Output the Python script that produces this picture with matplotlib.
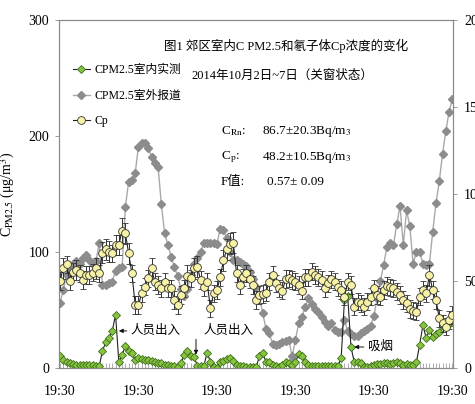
import matplotlib
matplotlib.use('Agg')
import matplotlib.pyplot as plt
from matplotlib.lines import Line2D
from matplotlib.ticker import MultipleLocator, FixedLocator
from matplotlib.font_manager import FontProperties

plt.rcParams['font.family'] = ['Liberation Serif', 'Noto Sans CJK SC']
plt.rcParams['mathtext.fontset'] = 'stix'

# ---------------- data (hourly, 2014-10-02 19:30 .. 10-07 19:30) ----------------
tick_positions = [0, 24, 48, 72, 96, 120]
tick_labels = ['19:30', '19:30', '19:30', '19:30', '19:30', '19:30']

indoor = [10, 7, 5, 4, 3.5, 3, 3, 2.5, 2.5, 3, 3, 2, 1.5,
          15, 22, 26, 32, 46,
          5, 11, 19, 15, 12.6, 7, 9,
          8, 7, 6.5, 6, 5, 4.5, 4, 3, 2.5, 2, 1.5, 1,
          4.6, 11, 14.6, 10,
          9.8, 2, 2, 2,
          13, 5.5, 1, 0,
          5, 6, 7.5, 9,
          6, 3, 2, 1.5, 1, 1, 1, 1,
          10, 12.6, 5.5, 5, 3, 2,
          1, 3, 5, 4, 2.5, 5,
          11.8, 10, 5, 3, 2,
          2, 2, 2, 1.5, 1.5, 1.5, 1.5, 1.5,
          8.6, 58.6, 62, 18,
          5, 5, 4, 1, 0.5, 2, 3,
          3.5, 3.5, 4, 4, 3.5, 4, 5, 4, 3, 3.5, 3, 3,
          5, 20, 37, 25.6, 33, 27, 29.5, 31, 36, 36.5, 38, 40]

outdoor = [56, 67, 80, 87, 90, 92, 90, 94.5, 97, 93, 90, 92, 107.5,
           71.5, 71.5, 73, 74.4, 84, 86, 87, 139,
           160.6, 162, 168, 190.8, 194, 193.6, 190, 182, 177, 173.6,
           141, 116, 106, 96, 87, 79, 68, 62, 68, 80,
           90, 94.5, 100, 107.5, 107.5, 107.5, 107.5, 107, 120, 119,
           112, 100, 93, 93, 91.6, 90, 88, 83, 77, 70,
           61.5, 47, 34, 30, 21, 20, 21, 22, 23, 24,
           10, 24, 38.5, 44, 53, 60, 55, 51, 48, 44,
           40, 36, 38.5, 33, 31, 31, 41, 32, 29, 28,
           28, 30, 32, 34, 36, 45, 60, 75, 89, 104.6,
           107.5, 106, 124, 139.6, 106, 136, 122, 90, 100, 100,
           90, 89, 90, 117.5, 142, 161, 184.5, 204, 221, 232]

cp = [50, 57.3, 59.6, 50, 55.4, 56.3, 54.4, 50.6, 53.4, 53.4, 54.8, 57.3, 54.4,
      66.3, 68.2, 66.9, 65.9, 70.7, 70.7, 79, 77.4, 65.9, 54.4,
      36.2, 36.2, 42.9, 46.7, 51.5, 57.3, 49.6, 47.7, 45.8, 49.6,
      45.8, 45.8, 39, 36.2, 42, 45.8, 53, 51.5, 57.3, 58.2,
      50.6, 46.4, 49.6, 34.3, 42.9, 44.8, 52.1, 62, 68.2, 71.3,
      72, 54.4, 47.7, 52.1, 54.4, 51.1, 47.7, 39, 42, 42.5,
      43.3, 49.6, 53.4, 48.7, 45.8, 44.4, 51.1, 51.5, 50.6, 49.6,
      47.7, 44.4, 52.1, 52.1, 55.4, 53.4, 52.1, 50.6, 45.8, 48.7,
      51, 49.6, 46.4, 44.8, 41, 49.6, 47.7, 35.2, 38.1, 37.2,
      35.2, 38.1, 41, 45.8, 42, 41, 44.8, 47.1, 46.4, 45.8,
      43.9, 42, 39, 37.2, 34, 33, 32.4, 41, 44.8, 42.9,
      53.4, 44.8, 39, 28.6, 25.7, 23.7, 27.6, 30.5]

cp_err = [5, 6, 5, 5, 5, 6, 5, 5, 5, 5, 5, 6, 5,
          6, 6, 6, 5, 6, 6, 7, 6, 6, 5,
          5, 5, 5, 5, 5, 6, 5, 5, 5, 5,
          5, 5, 5, 5, 5, 5, 6, 5, 6, 6,
          5, 5, 5, 5, 5, 5, 5, 6, 6, 6,
          6, 5, 5, 5, 5, 5, 5, 5, 5, 5,
          5, 5, 5, 5, 5, 5, 5, 5, 5, 5,
          5, 5, 5, 5, 5, 5, 5, 5, 5, 5,
          5, 5, 5, 5, 5, 5, 5, 5, 5, 5,
          5, 5, 5, 5, 5, 5, 5, 5, 5, 5,
          5, 5, 5, 5, 5, 5, 5, 5, 5, 5,
          6, 5, 5, 5, 5, 5, 5, 5]

series_labels = ['CPM2.5室内实测', 'CPM2.5室外报道', 'Cp']

assert len(indoor) == len(outdoor) == len(cp) == len(cp_err) == 121, (len(indoor), len(outdoor), len(cp), len(cp_err))

x = list(range(len(indoor)))

# ---------------- figure ----------------
fig = plt.figure(figsize=(4.75, 4.04), dpi=100)
ax = fig.add_axes([59 / 475, 36 / 404, 394 / 475, 348 / 404])
ax2 = ax.twinx()

green_face, green_edge = '#86c440', '#3f6e1c'
gray_c = '#8c8c8c'
yellow_face = '#f7f2a6'
frame_c = '#8a8a8a'

ax.plot(x, outdoor, color='#a9a9a9', lw=1.0, marker='D', ms=4.3,
        mfc=gray_c, mec=gray_c, zorder=2)
ax.plot(x, indoor, color='#222222', lw=0.8, marker='D', ms=4.5,
        mfc=green_face, mec=green_edge, mew=0.6, zorder=3)
ax2.errorbar(x, cp, yerr=cp_err, color='#222222', lw=0.8, marker='o', ms=5.6,
             mfc=yellow_face, mec='#333333', mew=0.6, ecolor='#333333',
             elinewidth=0.7, capsize=2, capthick=0.7)

ax.set_xlim(-0.3, 120.2)
ax.set_ylim(0, 300)
ax2.set_ylim(0, 200)

ax.xaxis.set_major_locator(FixedLocator(tick_positions))
ax.set_xticklabels(tick_labels)
ax.xaxis.set_minor_locator(MultipleLocator(1))
ax.set_yticks([0, 100, 200, 300])
ax2.set_yticks([0, 50, 100, 150, 200])

ax.tick_params(axis='x', which='both', direction='in', length=3.5, width=0.6,
               color='#a0a0a0', labelsize=10, pad=12)
ax.tick_params(axis='y', direction='out', length=3, width=0.6, color=frame_c,
               labelsize=10, pad=4)
ax2.tick_params(axis='y', direction='out', length=3, width=0.6, color=frame_c,
                labelsize=10, pad=5)

for a in (ax, ax2):
    for s in a.spines.values():
        s.set_color(frame_c)
        s.set_linewidth(0.8)

ax.set_ylabel(r'C$_{\mathrm{PM2.5}}$ (μg/m$^3$)', fontsize=10)
ax.yaxis.set_label_coords(-0.107, 0.5)

# ---------------- legend ----------------
handles = [
    Line2D([], [], color='#222222', lw=0.8, marker='D', ms=4.5, mfc=green_face, mec=green_edge, mew=0.6),
    Line2D([], [], color='#a9a9a9', lw=1.0, marker='D', ms=4.3, mfc=gray_c, mec=gray_c),
    Line2D([], [], color='#222222', lw=0.8, marker='o', ms=5.6, mfc=yellow_face, mec='#333333', mew=0.6),
]
leg = ax2.legend(handles, series_labels, loc='upper left', bbox_to_anchor=(0.036, 0.873),
                 frameon=False, borderaxespad=0, borderpad=0, handlelength=1.4,
                 handletextpad=0.4, labelspacing=1.15,
                 prop=FontProperties(family=['Liberation Serif', 'Noto Sans CJK SC'], size=8.5))

# ---------------- texts ----------------
T = ax.transAxes
ax2.text(0.576, 0.925, '图1 郊区室内C PM2.5和氡子体Cp浓度的变化', transform=T,
         ha='center', va='center', fontsize=9)
ax2.text(0.567, 0.839, '2014年10月2日~7日（关窗状态）', transform=T,
         ha='center', va='center', fontsize=9)
ax2.text(0.411, 0.681, r'C$_{\mathrm{Rn}}$:', transform=T, ha='left', va='center', fontsize=9.5)
ax2.text(0.515, 0.681, r'86.7±20.3Bq/m$_3$', transform=T, ha='left', va='center', fontsize=9.5)
ax2.text(0.411, 0.606, r'C$_{\mathrm{p}}$:', transform=T, ha='left', va='center', fontsize=9.5)
ax2.text(0.515, 0.606, r'48.2±10.5Bq/m$_3$', transform=T, ha='left', va='center', fontsize=9.5)
ax2.text(0.411, 0.534, 'F值:', transform=T, ha='left', va='center', fontsize=9.5)
ax2.text(0.528, 0.534, '0.57± 0.09', transform=T, ha='left', va='center', fontsize=9.5)

arrow_kw = dict(arrowstyle='-|>', color='#111111', lw=0.7, mutation_scale=6,
                shrinkA=1, shrinkB=0)
ax.annotate('人员出入', xy=(18.0, 32), xytext=(21.7, 32), ha='left', va='center',
            fontsize=9, arrowprops=arrow_kw)
ax.text(44.0, 32, '人员出入', ha='left', va='center', fontsize=9)
ax.annotate('', xy=(41.6, 11.5), xytext=(41.6, 26), arrowprops=arrow_kw)
ax.annotate('吸烟', xy=(90.0, 18.1), xytext=(94.2, 18.1), ha='left', va='center',
            fontsize=9, arrowprops=arrow_kw)

fig.savefig('out.png', dpi=100)
